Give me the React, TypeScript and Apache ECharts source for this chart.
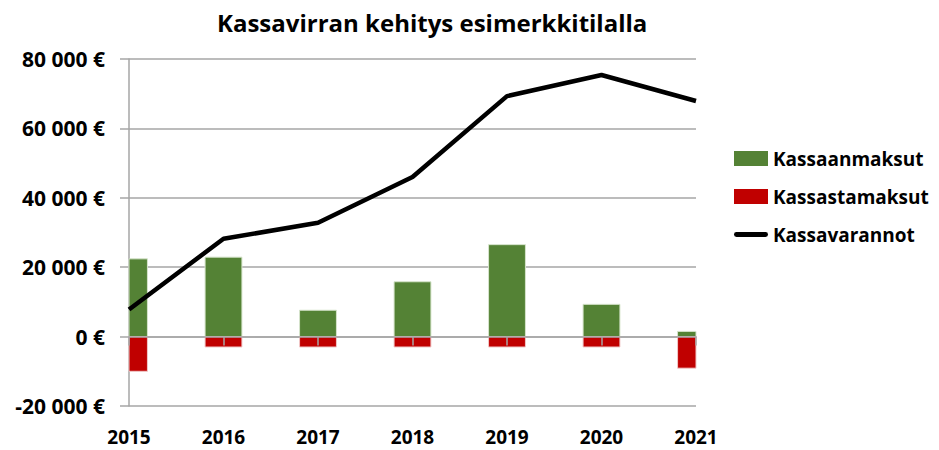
import React, { useEffect, useRef } from "react";
import * as echarts from "echarts";

const years = ["2015", "2016", "2017", "2018", "2019", "2020", "2021"];
const kassaanmaksut = [22400, 22900, 7600, 15800, 26500, 9300, 1500];
const kassastamaksut = [-10000, -3000, -3000, -3000, -3000, -3000, -9100];
const kassavarannot = [7800, 28200, 32800, 46000, 69300, 75400, 67900];
const yTicks = { min: -20000, max: 80000, interval: 20000 };

const FONT = "Open Sans";

function fmt(v: number): string {
  const s = String(Math.abs(v)).replace(/\B(?=(\d{3})+(?!\d))/g, " ");
  return (v < 0 ? "-" : "") + s + " €";
}

function barRenderer(fill: string, stroke: string) {
  return (params: any, api: any) => {
    const idx = api.value(0);
    const val = api.value(1);
    const top = api.coord([idx, val]);
    const base = api.coord([idx, 0]);
    const w = api.size([1, 0])[0] * 0.39;
    const shape = echarts.graphic.clipRectByRect(
      {
        x: top[0] - w / 2,
        y: Math.min(top[1], base[1]),
        width: w,
        height: Math.abs(base[1] - top[1]),
      },
      {
        x: params.coordSys.x,
        y: params.coordSys.y,
        width: params.coordSys.width,
        height: params.coordSys.height,
      }
    );
    if (!shape) return null;
    return {
      type: "rect",
      shape,
      style: { fill, stroke, lineWidth: 1 },
    };
  };
}

export default function App() {
  const ref = useRef<HTMLDivElement>(null);
  useEffect(() => {
    if (!ref.current) return;
    const chart = echarts.init(ref.current, undefined, { renderer: "svg" });
    const axisGray = "#a6a6a6";
    const green = "#548235";
    const red = "#c00000";
    chart.setOption({
      animation: false,
      backgroundColor: "#ffffff",
      textStyle: { fontFamily: FONT },
      title: {
        text: "Kassavirran kehitys esimerkkitilalla",
        left: 212,
        top: 5,
        textStyle: { fontFamily: FONT, fontWeight: "bold", fontSize: 24, color: "#000" },
      },
      grid: { left: 129, right: 243, top: 59, bottom: 44, containLabel: false, outerBoundsMode: "none" },
      legend: {
        orient: "vertical",
        left: 729,
        top: 144,
        itemWidth: 34,
        itemHeight: 15,
        itemGap: 19,
        symbolKeepAspect: true,
        textStyle: { fontFamily: FONT, fontWeight: "bold", fontSize: 19, color: "#000", padding: [0, 0, 0, 0] },
        data: [
          { name: "Kassaanmaksut", icon: "rect", itemStyle: { color: green } },
          { name: "Kassastamaksut", icon: "rect", itemStyle: { color: red } },
          { name: "Kassavarannot", icon: "path://M2 0H32A2.5 2.5 0 0 1 32 5H2A2.5 2.5 0 0 1 2 0Z", itemStyle: { color: "#000" } },
        ],
      },
      xAxis: [
        {
          type: "category",
          data: years,
          boundaryGap: false,
          z: 3,
          axisLine: { onZero: true, lineStyle: { color: axisGray, width: 1.5 } },
          axisTick: { show: true, length: 9, lineStyle: { color: axisGray, width: 1.5 } },
          axisLabel: { show: false },
          splitLine: { show: false },
        },
        {
          type: "category",
          data: years,
          boundaryGap: false,
          position: "bottom",
          axisLine: { show: false, onZero: false },
          axisTick: { show: false },
          axisLabel: {
            show: true,
            margin: 21,
            lineHeight: 19,
            fontFamily: FONT,
            fontWeight: "bold",
            fontSize: 19,
            color: "#000",
          },
          splitLine: { show: false },
        },
      ],
      yAxis: {
        type: "value",
        min: yTicks.min,
        max: yTicks.max,
        interval: yTicks.interval,
        axisLine: { show: true, lineStyle: { color: axisGray, width: 1.5 } },
        axisTick: { show: true, length: 9, lineStyle: { color: axisGray, width: 1.5 } },
        axisLabel: {
          margin: 24,
          fontFamily: FONT,
          fontWeight: "bold",
          fontSize: 21,
          color: "#000",
          formatter: (v: number) => fmt(v),
        },
        splitLine: { show: true, lineStyle: { color: axisGray, width: 1.5 } },
      },
      series: [
        {
          name: "Kassaanmaksut",
          type: "custom",
          xAxisIndex: 0,
          encode: { x: 0, y: 1 },
          data: years.map((_, i) => [i, kassaanmaksut[i]]),
          renderItem: barRenderer(green, "#d6e4cc"),
          itemStyle: { color: green },
          z: 2,
        },
        {
          name: "Kassastamaksut",
          type: "custom",
          xAxisIndex: 0,
          encode: { x: 0, y: 1 },
          data: years.map((_, i) => [i, kassastamaksut[i]]),
          renderItem: barRenderer(red, "#f0c8c8"),
          itemStyle: { color: red },
          z: 2,
        },
        {
          name: "Kassavarannot",
          type: "line",
          xAxisIndex: 0,
          data: kassavarannot,
          symbol: "none",
          lineStyle: { color: "#000", width: 4.5 },
          itemStyle: { color: "#000" },
          z: 5,
        },
      ],
    });
    return () => chart.dispose();
  }, []);
  return <div ref={ref} style={{ position: "fixed", left: 0, top: 0, width: 939, height: 450 }} />;
}
